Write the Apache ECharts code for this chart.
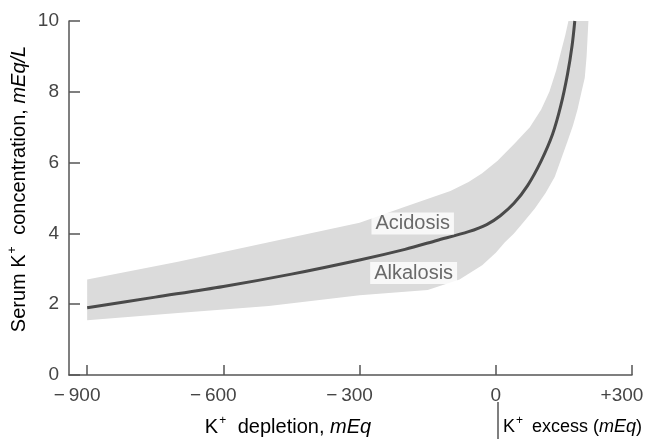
<!DOCTYPE html>
<html><head><meta charset="utf-8">
<script src="https://cdn.jsdelivr.net/npm/echarts@6/dist/echarts.min.js"></script>
<style>html,body{margin:0;padding:0;background:#fff}#c{width:652px;height:439px}</style>
</head><body><div id="c"></div>
<script>
// ---- data ----
const xTicks = [-900, -600, -300, 0, 300];
const yTicks = [0, 2, 4, 6, 8, 10];
// central curve (K+ balance vs serum K+)
const curveX = [-900, -750, -600, -450, -300, -200, -130, -60, -20, 10, 40, 70, 100, 125, 143, 158, 168, 174];
const curveY = [1.9, 2.2, 2.5, 2.85, 3.25, 3.55, 3.8, 4.05, 4.25, 4.5, 4.85, 5.35, 6.05, 6.8, 7.6, 8.5, 9.3, 10];
// shaded band: acidosis (upper) edge
const upperX = [-900, -700, -500, -300, -200, -100, -60, -30, 4, 42, 75, 100, 118, 133, 145, 153, 160];
const upperY = [2.7, 3.2, 3.75, 4.3, 4.75, 5.2, 5.45, 5.7, 6.05, 6.55, 7.0, 7.5, 8.0, 8.6, 9.2, 9.6, 10];
// shaded band: alkalosis (lower) edge
const lowerX = [-900, -700, -500, -300, -150, -80, -30, 0, 20, 40, 60, 86, 110, 130, 158, 170, 180, 188, 196, 200, 204];
const lowerY = [1.55, 1.75, 1.95, 2.25, 2.4, 2.7, 3.1, 3.45, 3.75, 4.0, 4.3, 4.7, 5.15, 5.6, 6.6, 7.05, 7.5, 7.95, 8.4, 9.0, 10];
// annotation labels
const labelNames = ['Acidosis', 'Alkalosis'];
const labelX = [-183, -181];
const labelY = [4.28, 2.88];

const FONT = 'Liberation Sans, Arial, sans-serif';
const TXT = '#454545';
const FS = 20;
const TFS = 19;
function rich(fs, gap) {
  return {
    n: {fontSize: fs, color: TXT, fontFamily: FONT, lineHeight: 24},
    sup: {fontSize: 12, color: TXT, fontFamily: FONT, verticalAlign: 'top', lineHeight: 24, padding: [0, gap, 0, 1]},
    i: {fontSize: fs, color: TXT, fontFamily: FONT, fontStyle: 'italic', lineHeight: 24}
  };
}

const curveData = curveX.map((x, i) => [x, curveY[i]]);
const bandPts = upperX.map((x, i) => [x, upperY[i]])
  .concat(lowerX.map((x, i) => [x, lowerY[i]]).reverse());
const labelData = labelX.map((x, i) => [x, labelY[i]]);

const chart = echarts.init(document.getElementById('c'), null, {renderer: 'canvas'});
const fmtX = v => v < 0 ? '{s|\u2212\u2009' + (-v) + '}' : (v > 0 ? '{s|+' + v + '}' : '{z|0}');

chart.setOption({
  animation: false,
  backgroundColor: '#fff',
  grid: {left: 69, right: 20, top: 21, bottom: 64, containLabel: false, outerBoundsMode: 'none'},
  xAxis: {
    type: 'value', min: -940, max: 300,
    axisLine: {show: true, onZero: false, lineStyle: {color: '#555', width: 1.5}},
    axisTick: {show: true, inside: true, length: 10, customValues: xTicks, lineStyle: {color: '#555', width: 1.5}},
    axisLabel: {
      customValues: xTicks, margin: 11, formatter: fmtX,
      rich: {
        s: {fontSize: TFS, color: TXT, fontFamily: FONT, padding: [0, 20, 0, 0]},
        z: {fontSize: TFS, color: TXT, fontFamily: FONT}
      }
    },
    splitLine: {show: false}
  },
  yAxis: {
    type: 'value', min: 0, max: 10, interval: 2,
    axisLine: {show: true, onZero: false, lineStyle: {color: '#555', width: 1.5}},
    axisTick: {show: true, inside: true, length: 11, lineStyle: {color: '#555', width: 1.5}},
    axisLabel: {margin: 10, fontSize: TFS, color: TXT, fontFamily: FONT,
      formatter: v => yTicks.indexOf(v) >= 0 ? String(v) : ''},
    splitLine: {show: false}
  },
  series: [
    {
      type: 'custom', z: 1, silent: true, clip: true,
      data: [0],
      renderItem: function (params, api) {
        const pts = bandPts.map(p => api.coord(p));
        return {type: 'polygon', shape: {points: pts}, style: {fill: '#dbdbdb', stroke: null}};
      }
    },
    {
      type: 'line', z: 3, data: curveData, smooth: 0.3, showSymbol: false, silent: true,
      lineStyle: {color: '#4a4a4a', width: 3}
    },
    {
      type: 'scatter', z: 4, data: labelData, symbolSize: 0.1, itemStyle: {color: 'rgba(0,0,0,0)'}, silent: true,
      label: {
        show: true, position: 'inside', formatter: p => labelNames[p.dataIndex],
        fontSize: FS, color: TXT, fontFamily: FONT, backgroundColor: '#fff', padding: [1, 4]
      }
    }
  ],
  graphic: [
    {type: 'text', x: 19, y: 189, rotation: Math.PI / 2,
      style: {text: '{n|Serum K}{sup|+}{n| concentration, }{i|mEq/L}', align: 'center', verticalAlign: 'middle', rich: rich(FS, 6)}},
    {type: 'text', x: 288, y: 427,
      style: {text: '{n|K}{sup|+}{n| depletion, }{i|mEq}', align: 'center', verticalAlign: 'middle', rich: rich(FS, 6)}},
    {type: 'text', x: 503, y: 427,
      style: {text: '{n|K}{sup|+}{n| excess (}{i|mEq}{n|)}', align: 'left', verticalAlign: 'middle', rich: rich(18, 4)}},
    {type: 'line', shape: {x1: 498, y1: 402, x2: 498, y2: 439}, style: {stroke: '#555', lineWidth: 1.5}}
  ]
});
</script>
</body></html>
